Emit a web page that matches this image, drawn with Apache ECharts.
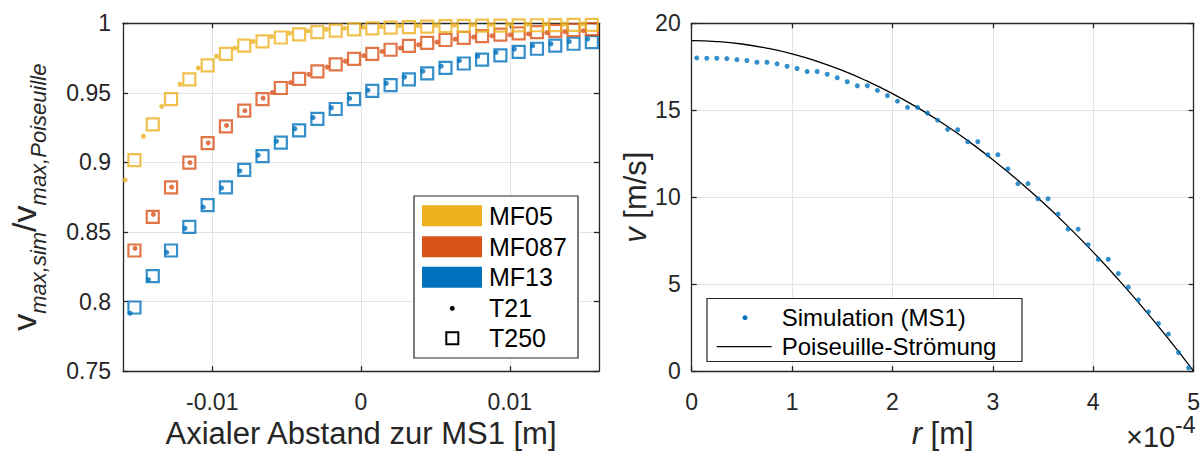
<!DOCTYPE html>
<html>
<head>
<meta charset="utf-8">
<script src="https://cdn.jsdelivr.net/npm/echarts@6/dist/echarts.min.js"></script>
<style>
  html, body { margin: 0; padding: 0; background: #ffffff; }
  #chart { width: 1203px; height: 454px; }
</style>
</head>
<body>
<div id="chart"></div>
<script>
// ---------- left panel: centre-line velocity ratio along the axis ----------
const xT250 = [-0.01523, -0.01400, -0.01277, -0.01154, -0.01031, -0.00908, -0.00785, -0.00662, -0.00539, -0.00416,
               -0.00293, -0.00170, -0.00047, 0.00076, 0.00199, 0.00322, 0.00445, 0.00568, 0.00691, 0.00814,
               0.00937, 0.01060, 0.01183, 0.01306, 0.01429, 0.01552];
const xT21MF05 = [-0.01586, -0.01463, -0.01340, -0.01217, -0.01094, -0.00971, -0.00848, -0.00725, -0.00602, -0.00479,
                  -0.00356, -0.00233, -0.00110, 0.00013, 0.00136, 0.00259, 0.00382, 0.00505, 0.00628, 0.00751,
                  0.00874, 0.00997, 0.01120, 0.01243, 0.01366, 0.01489];
const xT21MF087 = [-0.01519, -0.01396, -0.01273, -0.01150, -0.01027, -0.00904, -0.00781, -0.00658, -0.00597, -0.00474,
                   -0.00351, -0.00228, -0.00105, 0.00018, 0.00141, 0.00264, 0.00387, 0.00510, 0.00633, 0.00756,
                   0.00879, 0.01002, 0.01125, 0.01248, 0.01371, 0.01494];
const xT21MF13 = [-0.01552, -0.01429, -0.01306, -0.01183, -0.01060, -0.00937, -0.00814, -0.00691, -0.00568, -0.00445,
                  -0.00322, -0.00199, -0.00076, 0.00047, 0.00170, 0.00293, 0.00416, 0.00539, 0.00662, 0.00785,
                  0.00908, 0.01031, 0.01154, 0.01277, 0.01400, 0.01523];

const mf05T21 = [0.8875, 0.9188, 0.9403, 0.9562, 0.9678, 0.9763, 0.9822, 0.9869, 0.9905, 0.9929,
                 0.9945, 0.9957, 0.9964, 0.9972, 0.9976, 0.9981, 0.9983, 0.9986, 0.9988, 0.9990,
                 0.9991, 0.9992, 0.9993, 0.9994, 0.9995, 0.9995];
const mf05T250 = [0.9017, 0.9273, 0.9455, 0.9597, 0.9697, 0.9780, 0.9839, 0.9870, 0.9898, 0.9920,
                  0.9936, 0.9948, 0.9957, 0.9964, 0.9969, 0.9973, 0.9976, 0.9979, 0.9981, 0.9983,
                  0.9984, 0.9985, 0.9986, 0.9987, 0.9988, 0.9988];
const mf087T21 = [0.8383, 0.8627, 0.8823, 0.8999, 0.9141, 0.9266, 0.9372, 0.9462, 0.9502, 0.9574,
                  0.9633, 0.9685, 0.9727, 0.9768, 0.9798, 0.9822, 0.9846, 0.9865, 0.9886, 0.9901,
                  0.9910, 0.9917, 0.9924, 0.9933, 0.9940, 0.9947];
const mf087T250 = [0.8367, 0.8608, 0.8821, 0.8999, 0.9138, 0.9259, 0.9372, 0.9455, 0.9535, 0.9600,
                   0.9655, 0.9705, 0.9745, 0.9780, 0.9810, 0.9838, 0.9860, 0.9880, 0.9895, 0.9908,
                   0.9918, 0.9928, 0.9937, 0.9945, 0.9952, 0.9958];
const mf13T21 = [0.7916, 0.8158, 0.8354, 0.8527, 0.8679, 0.8816, 0.8939, 0.9053, 0.9152, 0.9242,
                 0.9322, 0.9393, 0.9460, 0.9519, 0.9569, 0.9614, 0.9656, 0.9692, 0.9732, 0.9763,
                 0.9791, 0.9815, 0.9839, 0.9853, 0.9869, 0.9886];
const mf13T250 = [0.7957, 0.8182, 0.8367, 0.8537, 0.8693, 0.8821, 0.8946, 0.9045, 0.9143, 0.9230,
                  0.9313, 0.9384, 0.9455, 0.9514, 0.9555, 0.9597, 0.9640, 0.9680, 0.9711, 0.9739,
                  0.9770, 0.9794, 0.9817, 0.9839, 0.9853, 0.9865];

const leftXTicks = [-0.01, 0, 0.01];
const leftLegendColours = ['MF05', 'MF087', 'MF13'];
const leftLegendMarkers = ['T21', 'T250'];

// ---------- right panel: radial velocity profile ----------
const rSim = [0.05e-4, 0.15e-4, 0.25e-4, 0.35e-4, 0.45e-4, 0.55e-4, 0.65e-4, 0.75e-4, 0.85e-4, 0.95e-4,
              1.05e-4, 1.15e-4, 1.25e-4, 1.35e-4, 1.45e-4, 1.55e-4, 1.65e-4, 1.75e-4, 1.85e-4, 1.95e-4,
              2.05e-4, 2.15e-4, 2.25e-4, 2.35e-4, 2.45e-4, 2.55e-4, 2.65e-4, 2.75e-4, 2.85e-4, 2.95e-4,
              3.05e-4, 3.15e-4, 3.25e-4, 3.35e-4, 3.45e-4, 3.55e-4, 3.65e-4, 3.75e-4, 3.85e-4, 3.95e-4,
              4.05e-4, 4.15e-4, 4.25e-4, 4.35e-4, 4.45e-4, 4.55e-4, 4.65e-4, 4.75e-4, 4.85e-4, 4.95e-4];
const vSim = [18.01, 17.99, 17.99, 17.97, 17.91, 17.86, 17.76, 17.76, 17.67, 17.53,
              17.40, 17.23, 17.23, 17.07, 16.87, 16.64, 16.41, 16.41, 16.14, 15.84,
              15.52, 15.17, 15.17, 14.83, 14.43, 13.90, 13.88, 13.19, 13.19, 12.44,
              12.44, 11.62, 10.78, 10.78, 9.91, 9.91, 9.03, 8.16, 8.16, 7.27,
              6.43, 6.43, 5.61, 4.83, 4.09, 3.41, 2.74, 2.13, 1.07, 0.19];
const rPois = [0, 0.25e-4, 0.5e-4, 0.75e-4, 1e-4, 1.25e-4, 1.5e-4, 1.75e-4, 2e-4, 2.25e-4, 2.5e-4,
               2.75e-4, 3e-4, 3.25e-4, 3.5e-4, 3.75e-4, 4e-4, 4.25e-4, 4.5e-4, 4.75e-4, 5e-4];
const vPois = [19.00, 18.95, 18.81, 18.57, 18.24, 17.81, 17.29, 16.67, 15.96, 15.15, 14.25,
               13.25, 12.16, 10.97, 9.69, 8.31, 6.84, 5.27, 3.61, 1.85, 0.00];
const rightLegend = ['Simulation (MS1)', 'Poiseuille-Strömung'];

// ---------- styling ----------
const FONT = '"Liberation Sans", Arial, Helvetica, sans-serif';
const INK = '#262626';
const GRID_C = '#e3e3e3';
const COL = { MF05: '#EDB120', MF087: '#D95319', MF13: '#0072BD' };

const pairs = (xs, ys) => xs.map((x, i) => [x, ys[i]]);

function boxAxis(gridIndex, pos, min, max, extra) {
  return Object.assign({
    gridIndex, type: 'value', position: pos, min, max,
    axisLine: { show: true, onZero: false, lineStyle: { color: INK, width: 1.3 } },
    axisTick: { show: true, inside: true, length: 5, lineStyle: { color: INK, width: 1.3 } },
    axisLabel: { show: false },
    splitLine: { show: false }
  }, extra || {});
}

const tickLabel = { show: true, color: INK, fontFamily: FONT, fontSize: 23 };
const splitL = { show: true, lineStyle: { color: GRID_C, width: 1 } };

function squares(xs, ys, c) {
  return { type: 'scatter', xAxisIndex: 0, yAxisIndex: 0, symbol: 'rect', symbolSize: 12,
    itemStyle: { color: 'rgba(255,255,255,0)', borderColor: c, borderWidth: 2.2 },
    data: pairs(xs, ys), silent: true, clip: false, z: 3 };
}
function dots(xs, ys, c) {
  return { type: 'scatter', xAxisIndex: 0, yAxisIndex: 0, symbol: 'circle', symbolSize: 5,
    itemStyle: { color: c }, data: pairs(xs, ys), silent: true, clip: false, z: 4 };
}

const chart = echarts.init(document.getElementById('chart'), null, { renderer: 'svg' });

// legend graphics (left panel)
const LL = { x: 414, y: 196, w: 164, h: 162 };
const lgRows = [215.7, 246.7, 277.3, 308.3, 338.3];
const leftLegendGfx = [
  { type: 'rect', shape: { x: LL.x, y: LL.y, width: LL.w, height: LL.h },
    style: { fill: '#fff', stroke: INK, lineWidth: 1.2 }, z: 10 }
];
leftLegendColours.forEach((n, i) => {
  leftLegendGfx.push({ type: 'rect', shape: { x: 422, y: lgRows[i] - 10.5, width: 60, height: 21 },
    style: { fill: COL[n] }, z: 11 });
  leftLegendGfx.push({ type: 'text', x: 489, y: lgRows[i],
    style: { text: n, fontFamily: FONT, fontSize: 25, fill: '#000', verticalAlign: 'middle' }, z: 11 });
});
leftLegendGfx.push({ type: 'circle', shape: { cx: 452.3, cy: lgRows[3], r: 2.5 }, style: { fill: '#000' }, z: 11 });
leftLegendGfx.push({ type: 'rect', shape: { x: 446.3, y: lgRows[4] - 6, width: 12, height: 12 },
  style: { fill: 'none', stroke: '#000', lineWidth: 2 }, z: 11 });
leftLegendMarkers.forEach((n, i) => {
  leftLegendGfx.push({ type: 'text', x: 489, y: lgRows[3 + i],
    style: { text: n, fontFamily: FONT, fontSize: 25, fill: '#000', verticalAlign: 'middle' }, z: 11 });
});

// legend graphics (right panel)
const RL = { x: 707, y: 298.5, w: 315, h: 63 };
const rightLegendGfx = [
  { type: 'rect', shape: { x: RL.x, y: RL.y, width: RL.w, height: RL.h },
    style: { fill: '#fff', stroke: INK, lineWidth: 1.2 }, z: 10 },
  { type: 'circle', shape: { cx: 745, cy: 317.7, r: 2.5 }, style: { fill: COL.MF13 }, z: 11 },
  { type: 'line', shape: { x1: 716.7, y1: 346.7, x2: 771.7, y2: 346.7 }, style: { stroke: '#000', lineWidth: 1.2 }, z: 11 },
  { type: 'text', x: 781.7, y: 317.7, style: { text: rightLegend[0], fontFamily: FONT, fontSize: 24, fill: '#000', verticalAlign: 'middle' }, z: 11 },
  { type: 'text', x: 781.7, y: 346.7, style: { text: rightLegend[1], fontFamily: FONT, fontSize: 24, fill: '#000', verticalAlign: 'middle' }, z: 11 }
];

// axis exponent of the radial axis
const exponentGfx = [
  { type: 'text', x: 1126, y: 437,
    style: { text: '×10', fontFamily: FONT, fontSize: 29, fill: INK, verticalAlign: 'middle' }, z: 11 },
  { type: 'text', x: 1175, y: 425,
    style: { text: '-4', fontFamily: FONT, fontSize: 23, fill: INK, verticalAlign: 'middle' }, z: 11 }
];

const option = {
  backgroundColor: '#ffffff',
  animation: false,
  grid: [
    { left: 123, top: 23.3, width: 476, height: 352, containLabel: false },
    { left: 691.7, top: 23.3, width: 503.3, height: 350.7, containLabel: false }
  ],
  xAxis: [
    boxAxis(0, 'bottom', -0.016, 0.016, {
      axisTick: { show: true, inside: true, length: 5, customValues: leftXTicks, lineStyle: { color: INK, width: 1.3 } },
      axisLabel: Object.assign({}, tickLabel, { margin: 19, customValues: leftXTicks,
        formatter: v => (Math.abs(v) < 1e-12 ? '0' : String(+v.toFixed(4))) }),
      splitLine: splitL,
      name: 'Axialer Abstand zur MS1 [m]', nameLocation: 'middle', nameGap: 46,
      nameTextStyle: { color: INK, fontFamily: FONT, fontSize: 31 }
    }),
    boxAxis(0, 'top', -0.016, 0.016, {
      axisTick: { show: true, inside: true, length: 5, customValues: leftXTicks, lineStyle: { color: INK, width: 1.3 } }
    }),
    boxAxis(1, 'bottom', 0, 5e-4, {
      interval: 1e-4,
      axisLabel: Object.assign({}, tickLabel, { margin: 19, formatter: v => String(Math.round(v * 1e4)) }),
      splitLine: splitL,
      name: '{i|r} [m]', nameLocation: 'middle', nameGap: 46,
      nameTextStyle: { color: INK, fontFamily: FONT, fontSize: 31,
        rich: { i: { fontStyle: 'italic', fontFamily: FONT, fontSize: 31, color: INK } } }
    }),
    boxAxis(1, 'top', 0, 5e-4, { interval: 1e-4 })
  ],
  yAxis: [
    boxAxis(0, 'left', 0.75, 1, {
      interval: 0.05,
      axisLabel: Object.assign({}, tickLabel, { margin: 12 }),
      splitLine: splitL,
      name: '{v|v}{s|max,sim}{v|/v}{s|max,Poiseuille}', nameLocation: 'middle', nameGap: 74, nameRotate: 90,
      nameTextStyle: { color: INK, fontFamily: FONT,
        rich: {
          v: { fontFamily: FONT, fontSize: 34, color: INK },
          s: { fontFamily: FONT, fontSize: 22, fontStyle: 'italic', color: INK, padding: [28, 0, 0, 0] }
        } }
    }),
    boxAxis(0, 'right', 0.75, 1, { interval: 0.05 }),
    boxAxis(1, 'left', 0, 20, {
      interval: 5,
      axisLabel: Object.assign({}, tickLabel, { margin: 11 }),
      splitLine: splitL,
      name: '{i|v} [m/s]', nameLocation: 'middle', nameGap: 33, nameRotate: 90,
      nameTextStyle: { color: INK, fontFamily: FONT, fontSize: 31,
        rich: { i: { fontStyle: 'italic', fontFamily: FONT, fontSize: 31, color: INK } } }
    }),
    boxAxis(1, 'right', 0, 20, { interval: 5 })
  ],
  series: [
    squares(xT250, mf13T250, COL.MF13),
    squares(xT250, mf087T250, COL.MF087),
    squares(xT250, mf05T250, COL.MF05),
    dots(xT21MF13, mf13T21, COL.MF13),
    dots(xT21MF087, mf087T21, COL.MF087),
    dots(xT21MF05, mf05T21, COL.MF05),
    { type: 'line', xAxisIndex: 2, yAxisIndex: 2, data: pairs(rPois, vPois), smooth: true,
      showSymbol: false, lineStyle: { color: '#000', width: 1.3 }, silent: true, z: 3 },
    { type: 'scatter', xAxisIndex: 2, yAxisIndex: 2, data: pairs(rSim, vSim), symbol: 'circle', symbolSize: 5,
      itemStyle: { color: COL.MF13 }, silent: true, clip: false, z: 4 }
  ],
  graphic: leftLegendGfx.concat(rightLegendGfx).concat(exponentGfx)
};
chart.setOption(option);
</script>
</body>
</html>
